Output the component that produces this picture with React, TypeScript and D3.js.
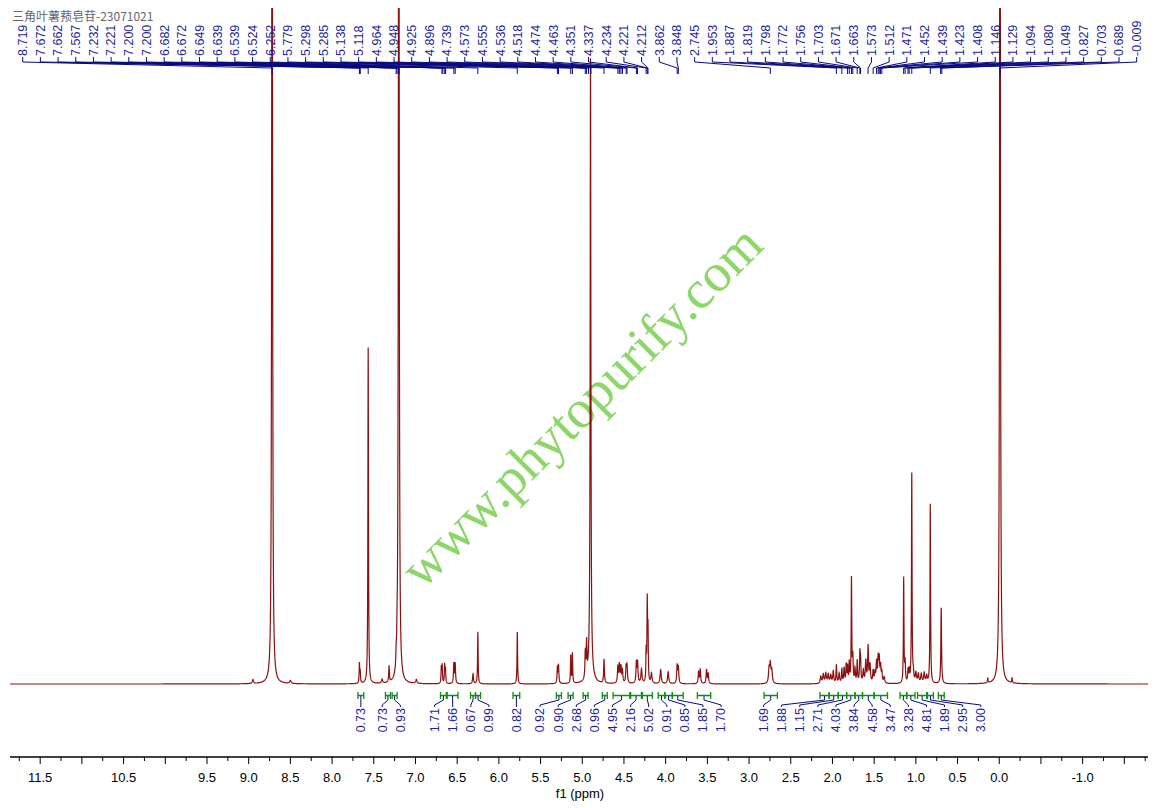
import React, { useEffect, useMemo } from "react";
import * as d3 from "d3";

const TITLE = "三角叶薯蓣皂苷-23071021";
const WATERMARK = "www.phytopurify.com";
const AXIS_TITLE = "f1 (ppm)";

// spectrum lines: chemical shift (ppm), intensity, half width (ppm)
const shiftPpm = [
  8.95, 8.719, 8.5, 7.672, 7.662, 7.567, 7.4, 7.317, 7.232, 7.221, 7.2, 6.99,
  6.69, 6.68, 6.65, 6.64, 6.54, 6.524, 6.31, 6.252, 5.779, 5.298, 5.285, 5.138,
  5.118, 4.964, 4.948, 4.901, 4.9, 4.739, 4.573, 4.555, 4.536, 4.518, 4.474,
  4.463, 4.351, 4.337, 4.29, 4.234, 4.221, 4.212, 4.17, 4.06, 3.97, 3.862,
  3.848, 3.605, 3.585, 3.51, 3.49, 2.76, 2.745, 2.728,
  2.14, 2.11, 2.08, 2.05, 2.02, 1.99, 1.953, 1.92, 1.887, 1.86, 1.835, 1.819,
  1.798, 1.772, 1.756, 1.73, 1.703, 1.671, 1.663, 1.63, 1.6, 1.573, 1.55,
  1.512, 1.49, 1.471, 1.452, 1.439, 1.423, 1.408, 1.38,
  1.146, 1.129, 1.094, 1.08, 1.049, 1.03, 1.0, 0.97, 0.935, 0.9, 0.87, 0.827,
  0.696, 0.138, -0.009, -0.153,
];
const intensity = [
  4, 1200, 3, 20, 10, 337, 4, 16, 10, 14, 1200, 4,
  16, 18, 18, 14, 20, 20, 10, 52, 52, 16, 18, 28,
  30, 26, 34, 612, 14, 24, 16, 18, 16, 12, 16,
  16, 20, 20, 14, 30, 80, 50, 10, 14, 12, 18,
  16, 12, 14, 14, 10, 14, 18, 12,
  7, 9, 10, 9, 8, 12, 18, 10, 14, 15, 18, 16,
  20, 105, 25, 14, 22, 28, 20, 12, 22, 36, 18,
  12, 10, 20, 24, 22, 16, 10, 6,
  105, 20, 12, 12, 210, 8, 10, 9, 9, 10, 7, 180,
  76, 5, 1200, 5,
];
const halfWidth = [
  0.008, 0.005, 0.01, 0.004, 0.004, 0.004, 0.008, 0.005, 0.004, 0.004, 0.005, 0.008,
  0.004, 0.004, 0.004, 0.004, 0.005, 0.005, 0.006, 0.004, 0.004, 0.005, 0.005, 0.004,
  0.004, 0.005, 0.005, 0.005, 0.03, 0.005, 0.006, 0.006, 0.006, 0.006, 0.006,
  0.006, 0.006, 0.006, 0.008, 0.004, 0.004, 0.004, 0.008, 0.008, 0.008, 0.006,
  0.006, 0.006, 0.006, 0.006, 0.006, 0.008, 0.008, 0.008,
  0.008, 0.008, 0.008, 0.008, 0.008, 0.007, 0.005, 0.007, 0.005, 0.006, 0.005, 0.005,
  0.005, 0.004, 0.005, 0.006, 0.005, 0.005, 0.005, 0.007, 0.007, 0.006, 0.007,
  0.006, 0.007, 0.006, 0.006, 0.006, 0.006, 0.006, 0.008,
  0.004, 0.005, 0.005, 0.005, 0.004, 0.006, 0.008, 0.008, 0.008, 0.008, 0.008, 0.004,
  0.005, 0.004, 0.005, 0.004,
];

// peak picking labels (top)
const peakLabels = [
  "8.719", "7.672", "7.662", "7.567", "7.232", "7.221", "7.200", "7.200",
  "6.682", "6.672", "6.649", "6.639", "6.539", "6.524", "6.252", "5.779",
  "5.298", "5.285", "5.138", "5.118", "4.964", "4.948", "4.925", "4.896",
  "4.739", "4.573", "4.555", "4.536", "4.518", "4.474", "4.463", "4.351",
  "4.337", "4.234", "4.221", "4.212", "3.862", "3.848", "2.745", "1.953",
  "1.887", "1.819", "1.798", "1.772", "1.756", "1.703", "1.671", "1.663",
  "1.573", "1.512", "1.471", "1.452", "1.439", "1.423", "1.408", "1.146",
  "1.129", "1.094", "1.080", "1.049", "0.827", "0.703", "0.689", "-0.009",
];

// integrals (ppm ranges and values)
const integralFrom = [
  7.69, 7.36, 7.28, 6.7, 6.62, 6.34, 6.28, 5.83, 5.31, 5.17, 4.99, 4.76, 4.63,
  4.42, 4.28, 4.09, 4.01, 3.92, 3.62, 2.82, 2.15, 2.04, 1.93, 1.83, 1.73, 1.64,
  1.5, 1.19, 1.11, 0.98, 0.86, 0.73,
];
const integralTo = [
  7.62, 7.3, 7.22, 6.63, 6.49, 6.28, 6.22, 5.75, 5.25, 5.11, 4.93, 4.7, 4.43,
  4.29, 4.16, 4.01, 3.92, 3.79, 3.46, 2.66, 2.04, 1.93, 1.83, 1.73, 1.64, 1.5,
  1.34, 1.11, 1.01, 0.87, 0.79, 0.66,
];
const integralValues = [
  "0.73", "0.73", "0.93", "1.71", "1.66", "0.67", "0.99", "0.82", "0.92", "0.90",
  "2.68", "0.96", "4.95", "2.16", "5.02", "0.91", "0.85", "1.85", "1.70", "1.69",
  "1.88", "1.15", "2.71", "4.03", "3.84", "4.58", "3.47", "3.28", "4.81", "1.89",
  "2.95", "3.00",
];

// axis tick labels shown
const axisLabels = [
  11.5, 10.5, 9.5, 9.0, 8.5, 8.0, 7.5, 7.0, 6.5, 6.0, 5.5, 5.0, 4.5, 4.0, 3.5,
  3.0, 2.5, 2.0, 1.5, 1.0, 0.5, 0.0, -1.0,
];

const W = 1155;
const H = 808;
const SANS = "'Liberation Sans', Arial, Helvetica, sans-serif";

function spread(centers: number[], gap: number): number[] {
  type C = { n: number; sum: number; pos: number };
  let clusters: C[] = centers.map((c) => ({ n: 1, sum: c, pos: c }));
  let merged = true;
  while (merged) {
    merged = false;
    const out: C[] = [];
    for (const cl of clusters) {
      const last = out[out.length - 1];
      if (last) {
        const lastEnd = last.pos + ((last.n - 1) * gap) / 2;
        const curStart = cl.pos - ((cl.n - 1) * gap) / 2;
        if (curStart - lastEnd < gap) {
          last.n += cl.n;
          last.sum += cl.sum;
          last.pos = last.sum / last.n;
          merged = true;
          continue;
        }
      }
      out.push({ ...cl });
    }
    clusters = out;
  }
  const res: number[] = [];
  for (const cl of clusters) {
    for (let k = 0; k < cl.n; k++) res.push(cl.pos + (k - (cl.n - 1) / 2) * gap);
  }
  return res;
}

export default function App() {
  useEffect(() => {
    document.body.style.margin = "0";
  }, []);

  const x = useMemo(
    () => d3.scaleLinear().domain([11.862, -1.7836]).range([10, 1148]),
    []
  );
  const y = useMemo(() => d3.scaleLinear().domain([0, 676]).range([684, 8]), []);

  const specPath = useMemo(() => {
    const [a, b] = x.domain();
    const pts = d3.range(a, b, -0.0012).map((p) => {
      let s = 0;
      for (let i = 0; i < shiftPpm.length; i++) {
        const d = (p - shiftPpm[i]) / halfWidth[i];
        s += intensity[i] / (1 + d * d);
      }
      return [p, s] as [number, number];
    });
    return d3
      .line<[number, number]>()
      .x((d) => x(d[0]))
      .y((d) => y(d[1]))(pts);
  }, [x, y]);

  const labelPos = d3
    .scalePoint<number>()
    .domain(d3.range(peakLabels.length))
    .range([22.7, 1136.7]);

  const intCenters = integralFrom.map((f, i) => (x(f) + x(integralTo[i])) / 2);
  const intLabelX = spread(intCenters, 18.1);

  const ticks = d3.range(-1.75, 11.8, 0.25);

  return (
    <svg
      width={W}
      height={H}
      style={{ display: "block", position: "absolute", left: 0, top: 0, background: "#fff" }}
    >
      <defs>
        <clipPath id="plotclip">
          <rect x={0} y={8} width={W} height={700} />
        </clipPath>
      </defs>
      <rect x={0} y={0} width={W} height={H} fill="#fff" />

      {/* watermark */}
      <text
        transform="translate(594,419) rotate(-45)"
        textAnchor="middle"
        fontFamily="'Liberation Serif', 'Times New Roman', serif"
        fontSize={54}
        fill="#8cd66a"
      >
        {WATERMARK}
      </text>

      {/* spectrum */}
      <path
        d={specPath || ""}
        fill="none"
        stroke="#8b1010"
        strokeWidth={1.2}
        clipPath="url(#plotclip)"
      />

      {/* peak labels */}
      <g>
        {peakLabels.map((lab, i) => {
          const lx = labelPos(i) as number;
          const px = x(parseFloat(lab));
          return (
            <g key={"pl" + i}>
              <path
                d={`M${lx},57 V62 L${px},68 V74`}
                fill="none"
                stroke="#0a0a80"
                strokeWidth={1}
              />
              <text
                transform={`translate(${lx},56) rotate(-90)`}
                textAnchor="start"
                dy="0.35em"
                fontFamily={SANS}
                fontSize={12.5}
                fill="#1f1f9c"
              >
                {lab}
              </text>
            </g>
          );
        })}
      </g>

      {/* title */}
      <text x={12} y={21} fontFamily="'Noto Sans CJK SC', sans-serif" fontSize={12} fill="#666">
        {TITLE}
      </text>

      {/* integrals */}
      <g>
        {integralValues.map((v, i) => {
          const x1 = x(integralFrom[i]);
          const x2 = x(integralTo[i]);
          const cx = intCenters[i];
          const lx = intLabelX[i];
          return (
            <g key={"int" + i}>
              <path
                d={`M${x1},692 V699 M${x1},695.5 H${x2} M${x2},692 V699`}
                fill="none"
                stroke="#128c12"
                strokeWidth={1.3}
              />
              <path
                d={`M${cx},696 V700 L${lx},705 V707`}
                fill="none"
                stroke="#0a0a80"
                strokeWidth={1}
              />
              <text
                transform={`translate(${lx},708) rotate(-90)`}
                textAnchor="end"
                dy="0.35em"
                fontFamily={SANS}
                fontSize={12.5}
                fill="#1f1f9c"
              >
                {v}
              </text>
            </g>
          );
        })}
      </g>

      {/* axis */}
      <g>
        <line x1={10} x2={1148} y1={757} y2={757} stroke="#000" strokeWidth={1.3} />
        {ticks.map((t, i) => {
          const major = Math.abs(t * 2 - Math.round(t * 2)) < 1e-6;
          return (
            <line
              key={"t" + i}
              x1={x(t)}
              x2={x(t)}
              y1={757}
              y2={major ? 764 : 761}
              stroke="#000"
              strokeWidth={1}
            />
          );
        })}
        {axisLabels.map((t, i) => (
          <text
            key={"al" + i}
            x={x(t)}
            y={782}
            textAnchor="middle"
            fontFamily={SANS}
            fontSize={13}
            fill="#000"
          >
            {t.toFixed(1)}
          </text>
        ))}
        <text x={580} y={798} textAnchor="middle" fontFamily={SANS} fontSize={13} fill="#000">
          {AXIS_TITLE}
        </text>
      </g>
    </svg>
  );
}
